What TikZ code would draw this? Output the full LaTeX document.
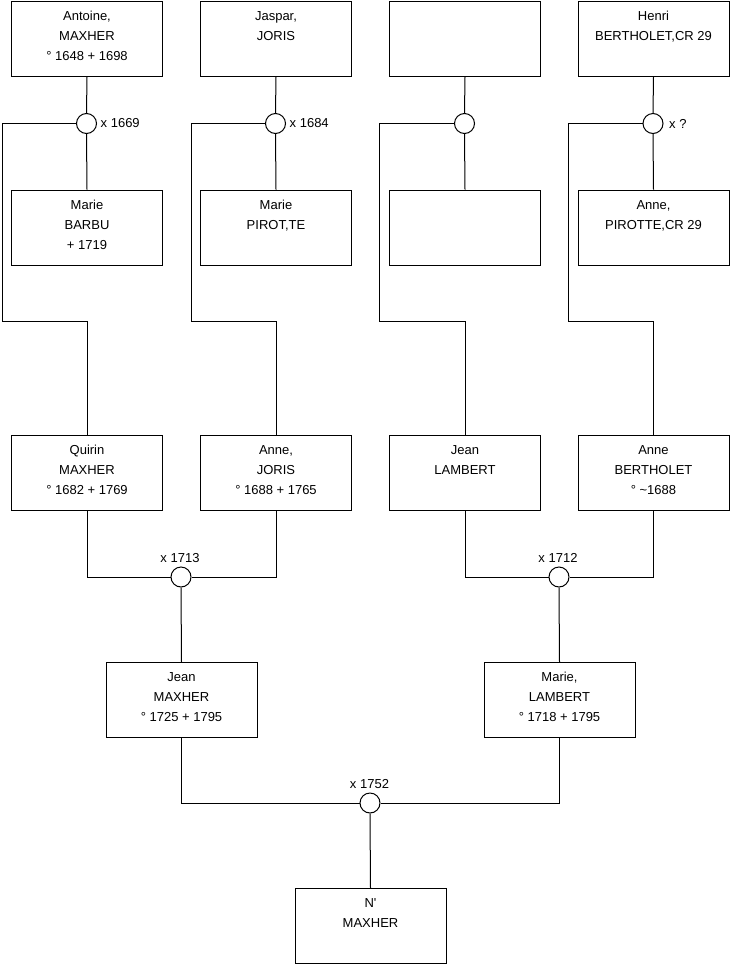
\documentclass[tikz,border=0pt]{standalone}
\usepackage{fontspec}
\setmainfont{Liberation Sans}
\newcommand\ptext[1]{\parbox[t][75pt][t]{151pt}{\centering\fontsize{13}{20}\selectfont\rule{0pt}{19pt}#1\par}}
\tikzset{
  person/.style={draw=black, line width=1pt, inner sep=0pt, anchor=north west, fill=white},
  ring/.style={circle, draw=black, line width=1pt, minimum size=20pt, inner sep=0pt, fill=white},
  link/.style={draw=black, line width=1pt},
  lbl/.style={font=\fontsize{13}{15}\selectfont, inner sep=0pt}
}
\begin{document}
\begin{tikzpicture}[x=1pt,y=-1pt]
\useasboundingbox[fill=white] (0,0) rectangle (740,975);
% top generation
\node[person] (t1) at (11,1) {\ptext{Antoine,\\MAXHER\\° 1648 + 1698}};
\node[person] (t2) at (200,1) {\ptext{Jaspar,\\JORIS}};
\node[person] (t3) at (389,1) {\ptext{}};
\node[person] (t4) at (577.5,1) {\ptext{Henri\\BERTHOLET,CR 29}};
\node[person] (s1) at (11,189.5) {\ptext{Marie\\BARBU\\ + 1719}};
\node[person] (s2) at (200,189.5) {\ptext{Marie\\PIROT,TE}};
\node[person] (s3) at (389,189.5) {\ptext{}};
\node[person] (s4) at (577.5,189.5) {\ptext{Anne,\\PIROTTE,CR 29}};
% couples rings
\node[ring] (c1) at (86.5,123.5) {};
\node[ring] (c2) at (275.5,123.5) {};
\node[ring] (c3) at (464.5,123.5) {};
\node[ring] (c4) at (653,123.5) {};
% second generation
\node[person] (q1) at (11,435) {\ptext{Quirin\\MAXHER\\° 1682 + 1769}};
\node[person] (q2) at (200,435) {\ptext{Anne,\\JORIS\\° 1688 + 1765}};
\node[person] (q3) at (389,435) {\ptext{Jean\\LAMBERT}};
\node[person] (q4) at (577.5,435) {\ptext{Anne\\BERTHOLET\\° \textasciitilde1688}};
\node[ring] (c5) at (181,577) {};
\node[ring] (c6) at (559,577) {};
% third generation
\node[person] (j1) at (105.5,662) {\ptext{Jean\\MAXHER\\° 1725 + 1795}};
\node[person] (j2) at (483.5,662) {\ptext{Marie,\\LAMBERT\\° 1718 + 1795}};
\node[ring] (c7) at (370,803) {};
\node[person] (n1) at (294.5,888) {\ptext{N\textquotesingle\\MAXHER}};
% bend points
\coordinate (k1) at (2,321);
\coordinate (k2) at (191,321);
\coordinate (k3) at (379.5,321);
\coordinate (k4) at (568.5,321);
% connectors
\draw[link] (t1.south) -- (c1.north);
\draw[link] (c1.south) -- (s1.north);
\draw[link] (t2.south) -- (c2.north);
\draw[link] (c2.south) -- (s2.north);
\draw[link] (t3.south) -- (c3.north);
\draw[link] (c3.south) -- (s3.north);
\draw[link] (t4.south) -- (c4.north);
\draw[link] (c4.south) -- (s4.north);
\draw[link] (c1.west) -| (k1) -| (q1.north);
\draw[link] (c2.west) -| (k2) -| (q2.north);
\draw[link] (c3.west) -| (k3) -| (q3.north);
\draw[link] (c4.west) -| (k4) -| (q4.north);
\draw[link] (q1.south) |- (c5.west);
\draw[link] (q2.south) |- (c5.east);
\draw[link] (c5.south) -- (j1.north);
\draw[link] (q3.south) |- (c6.west);
\draw[link] (q4.south) |- (c6.east);
\draw[link] (c6.south) -- (j2.north);
\draw[link] (j1.south) |- (c7.west);
\draw[link] (j2.south) |- (c7.east);
\draw[link] (c7.south) -- (n1.north);
% labels
\node[lbl, anchor=west] at ([xshift=3.5pt]c1.east) {x 1669};
\node[lbl, anchor=west] at ([xshift=3.5pt]c2.east) {x 1684};
\node[lbl, anchor=west] at ([xshift=5.5pt]c4.east) {x ?};
\node[lbl, anchor=base] at ([yshift=4.5pt,xshift=-1pt]c5.north) {x 1713};
\node[lbl, anchor=base] at ([yshift=4.5pt,xshift=-1pt]c6.north) {x 1712};
\node[lbl, anchor=base] at ([yshift=4pt,xshift=-0.5pt]c7.north) {x 1752};
\end{tikzpicture}
\end{document}
